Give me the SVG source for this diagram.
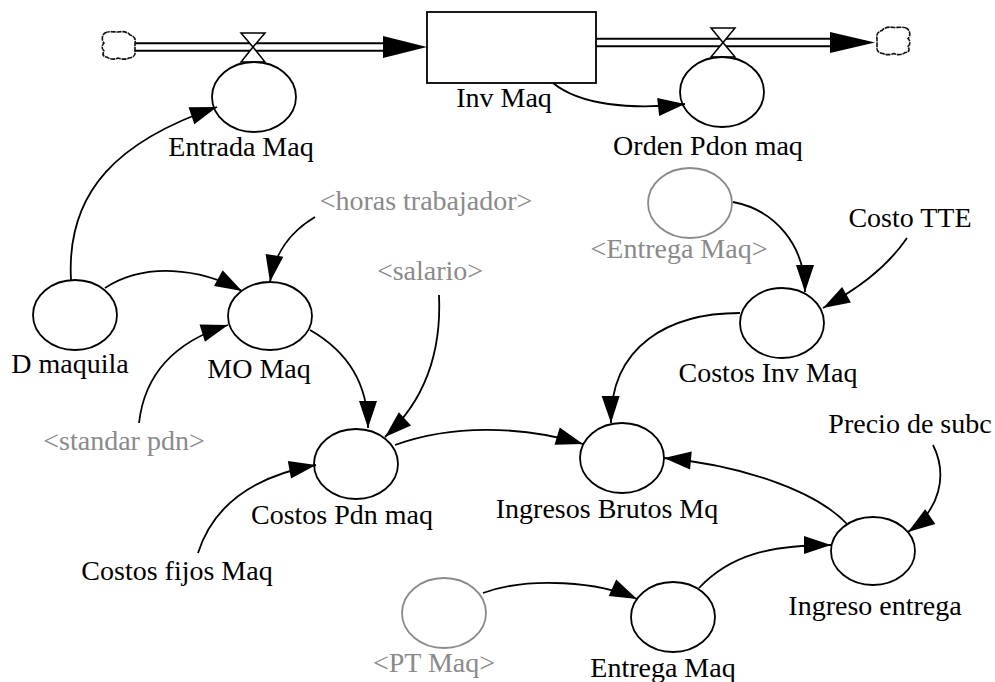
<svg xmlns="http://www.w3.org/2000/svg" width="995" height="682" viewBox="0 0 995 682">
  <style>
    text { font-family: "Liberation Serif", "Times New Roman", Times, serif; font-size: 28px; text-anchor: middle; fill: #000; }
    text.shadow { fill: #8a8a8a; }
    .aux { fill: #fff; stroke: #000; stroke-width: 1.8; }
    .aux.shadow { stroke: #8a8a8a; }
    .stock { fill: #fff; stroke: #000; stroke-width: 1.8; }
    .link { fill: none; stroke: #000; stroke-width: 1.8; marker-end: url(#arrow); }
    .pipe-out { fill: none; stroke: #000; stroke-width: 9.5; }
    .pipe-in { fill: none; stroke: #fff; stroke-width: 5.5; }
    .valve { fill: #fff; stroke: #000; stroke-width: 1.5; }
    .cloud { fill: #fff; stroke: #111; stroke-width: 1.6; stroke-dasharray: 5 0.8; }
  </style>
  <defs>
    <marker id="arrow" markerUnits="userSpaceOnUse" viewBox="-28 -10 30 20" markerWidth="30" markerHeight="20" refX="0" refY="0" orient="auto">
      <path d="M0,0 L-27,-9 L-27,9 Z" fill="#000"/>
    </marker>
    <path id="cloud-shape" class="cloud" d="M105,33 C108,31 114,32 118,32 C123,31 128,32 130,35 C134,36 136,39 135,43 L135,51 C136,55 133,58 129,58 C125,60 121,59 118,58 C114,60 109,59 107,57 C103,57 102,54 104,51 C101,48 102,45 104,43 C101,40 102,35 105,33 Z"/>
  </defs>

  <!-- material flows -->
  <g id="flows">
    <path class="pipe-out" d="M134,47 H386"/>
    <path class="pipe-in" d="M134,47 H388"/>
    <polygon points="427,47 383,36 383,58" fill="#000"/>
    <path class="pipe-out" d="M596,42.5 H833"/>
    <path class="pipe-in" d="M596,42.5 H835"/>
    <polygon points="875,42.5 830,32 830,53" fill="#000"/>
  </g>

  <g id="source-cloud">
    <use href="#cloud-shape"/>
  </g>
  <g id="sink-cloud">
    <use href="#cloud-shape" transform="translate(1012,-4.5) scale(-1,1)"/>
  </g>

  <g id="inv-maq">
    <rect class="stock" x="427" y="12" width="169" height="71"/>
    <text x="504" y="107">Inv Maq</text>
  </g>

  <g id="entrada-maq">
    <polygon class="valve" points="241,33 265,33 253,47"/>
    <polygon class="valve" points="241,62 265,62 253,47"/>
    <ellipse class="aux" cx="254" cy="97" rx="42" ry="35"/>
    <text x="241" y="156">Entrada Maq</text>
  </g>

  <g id="orden-pdon-maq">
    <polygon class="valve" points="711,28 735,28 723,42.5"/>
    <polygon class="valve" points="711,57 735,57 723,42.5"/>
    <ellipse class="aux" cx="722" cy="92" rx="42" ry="35"/>
    <text x="708" y="155">Orden Pdon maq</text>
  </g>

  <g id="d-maquila">
    <ellipse class="aux" cx="75" cy="315" rx="42" ry="35"/>
    <text x="70" y="373">D maquila</text>
  </g>

  <g id="mo-maq">
    <ellipse class="aux" cx="270" cy="316" rx="42" ry="34"/>
    <text x="259" y="378">MO Maq</text>
  </g>

  <g id="horas-trabajador">
    <text class="shadow" x="426" y="210">&lt;horas trabajador&gt;</text>
  </g>

  <g id="salario">
    <text class="shadow" x="430" y="280">&lt;salario&gt;</text>
  </g>

  <g id="standar-pdn">
    <text class="shadow" x="124" y="450">&lt;standar pdn&gt;</text>
  </g>

  <g id="costos-pdn-maq">
    <ellipse class="aux" cx="356" cy="464" rx="42" ry="35"/>
    <text x="342" y="524">Costos Pdn maq</text>
  </g>

  <g id="costos-fijos-maq">
    <text x="177" y="580">Costos fijos Maq</text>
  </g>

  <g id="ingresos-brutos-mq">
    <ellipse class="aux" cx="622" cy="458" rx="42" ry="35"/>
    <text x="607" y="518">Ingresos Brutos Mq</text>
  </g>

  <g id="entrega-maq-shadow">
    <ellipse class="aux shadow" cx="690" cy="203" rx="42" ry="35"/>
    <text class="shadow" x="679" y="258">&lt;Entrega Maq&gt;</text>
  </g>

  <g id="costo-tte">
    <text x="910" y="227">Costo TTE</text>
  </g>

  <g id="costos-inv-maq">
    <ellipse class="aux" cx="782" cy="323" rx="42" ry="35"/>
    <text x="768" y="382">Costos Inv Maq</text>
  </g>

  <g id="precio-de-subc">
    <text x="910" y="433">Precio de subc</text>
  </g>

  <g id="ingreso-entrega">
    <ellipse class="aux" cx="873" cy="551" rx="42" ry="34"/>
    <text x="875" y="615">Ingreso entrega</text>
  </g>

  <g id="pt-maq">
    <ellipse class="aux shadow" cx="444" cy="613" rx="42" ry="35"/>
    <text class="shadow" x="434" y="672">&lt;PT Maq&gt;</text>
  </g>

  <g id="entrega-maq">
    <ellipse class="aux" cx="673" cy="617" rx="42" ry="35"/>
    <text x="663" y="677">Entrega Maq</text>
  </g>

  <!-- causal links -->
  <g id="links">
    <path class="link" d="M553,83 C580,105 630,110 685,104"/>
    <path class="link" d="M71,280 C66,190 120,140 217,107"/>
    <path class="link" d="M105,288 C145,262 200,268 242,291"/>
    <path class="link" d="M315,217 C290,232 275,252 270,282"/>
    <path class="link" d="M139,423 C145,370 180,340 228,325"/>
    <path class="link" d="M310,330 C345,350 368,380 368,428"/>
    <path class="link" d="M439,295 C442,360 420,405 385,437"/>
    <path class="link" d="M198,553 C215,500 260,475 316,465"/>
    <path class="link" d="M395,445 C450,425 520,425 583,444"/>
    <path class="link" d="M740,313 C670,313 610,345 611,423"/>
    <path class="link" d="M847,524 C815,490 740,465 664,458"/>
    <path class="link" d="M933,445 C948,475 940,510 908,532"/>
    <path class="link" d="M699,588 C730,555 770,545 831,545"/>
    <path class="link" d="M483,593 C530,576 600,582 637,599"/>
    <path class="link" d="M733,202 C775,210 805,245 805,292"/>
    <path class="link" d="M907,238 C885,270 855,290 823,308"/>
  </g>
</svg>
